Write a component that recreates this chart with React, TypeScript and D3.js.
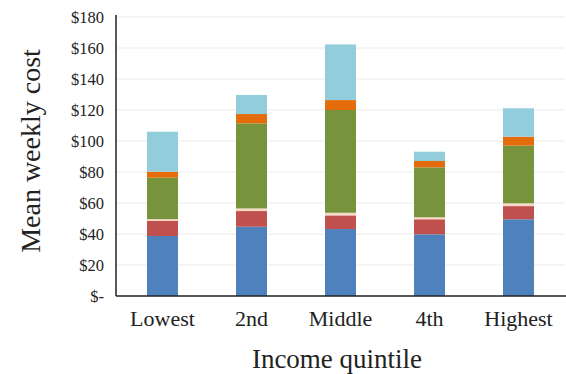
import React from "react";
import * as d3 from "d3";

// Income quintiles and the mean weekly cost components (stacked bottom to top)
const quintiles = ["Lowest", "2nd", "Middle", "4th", "Highest"];
const seriesKeys = ["s1", "s2", "s3", "s4", "s5", "s6"];
const s1 = [38.7, 44.7, 43.2, 39.8, 49.5];
const s2 = [9.7, 10.1, 8.8, 9.7, 8.5];
const s3 = [1.2, 1.7, 1.7, 1.3, 1.8];
const s4 = [26.7, 54.9, 66.3, 32.2, 37.2];
const s5 = [3.9, 6.0, 6.4, 4.1, 5.8];
const s6 = [25.8, 12.3, 35.9, 6.0, 18.3];
const seriesColors = ["#4F81BD", "#C0504D", "#F7D9C6", "#77933C", "#E46C0A", "#92CDDC"];
const yTicks = [0, 20, 40, 60, 80, 100, 120, 140, 160, 180];

const W = 566;
const H = 374;
const left = 116;
const right = 565;
const top = 17;
const bottom = 296;
const font = "'Liberation Serif', 'Times New Roman', serif";

export default function App() {
  const table = quintiles.map((q, i) => ({
    q,
    s1: s1[i],
    s2: s2[i],
    s3: s3[i],
    s4: s4[i],
    s5: s5[i],
    s6: s6[i],
  }));
  const stacked = d3.stack<any>().keys(seriesKeys)(table);

  const x = d3
    .scaleBand<string>()
    .domain(quintiles)
    .range([118, 563])
    .paddingInner(0.652)
    .paddingOuter(0.326);
  const y = d3.scaleLinear().domain([0, 180]).range([bottom, top]);

  const fmt = (v: number) => (v === 0 ? "$-" : `$${v}`);

  return (
    <svg
      width={W}
      height={H}
      style={{ position: "absolute", left: 0, top: 0, background: "#fff" }}
    >
      {/* gridlines */}
      {yTicks.slice(1).map((t) => (
        <line
          key={t}
          x1={left}
          x2={right}
          y1={y(t)}
          y2={y(t)}
          stroke="#ebebeb"
          strokeWidth={1}
        />
      ))}
      {/* stacked bars */}
      {stacked.map((layer, li) =>
        layer.map((d, i) => (
          <rect
            key={`${li}-${i}`}
            x={x(quintiles[i])}
            width={x.bandwidth()}
            y={y(d[1])}
            height={y(d[0]) - y(d[1])}
            fill={seriesColors[li]}
          />
        ))
      )}
      {/* axes */}
      <line x1={left} x2={left} y1={15} y2={bottom} stroke="#222" strokeWidth={1.5} />
      <line x1={left} x2={right + 1} y1={bottom} y2={bottom} stroke="#222" strokeWidth={1.5} />
      {/* y tick labels */}
      {yTicks.map((t) => (
        <text
          key={t}
          x={104}
          y={y(t)}
          dy="0.35em"
          textAnchor="end"
          fontFamily={font}
          fontSize={16.5}
          fill="#222"
        >
          {fmt(t)}
        </text>
      ))}
      {/* x tick labels */}
      {quintiles.map((q) => (
        <text
          key={q}
          x={(x(q) as number) + x.bandwidth() / 2}
          y={326}
          textAnchor="middle"
          fontFamily={font}
          fontSize={22}
          fill="#222"
        >
          {q}
        </text>
      ))}
      {/* axis titles */}
      <text x={337} y={368} textAnchor="middle" fontFamily={font} fontSize={27} fill="#222">
        Income quintile
      </text>
      <text
        transform="translate(40,151) rotate(-90)"
        textAnchor="middle"
        fontFamily={font}
        fontSize={28}
        fill="#222"
      >
        Mean weekly cost
      </text>
    </svg>
  );
}
